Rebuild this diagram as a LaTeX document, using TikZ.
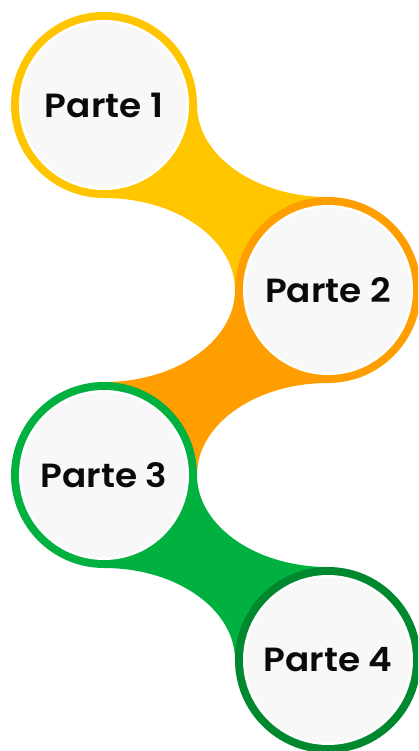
\documentclass[tikz,border=0pt]{standalone}
\usepackage{fontspec}
\setmainfont{Poppins}[BoldFont={Poppins SemiBold}, FakeStretch=1.07]
\usetikzlibrary{backgrounds}
\definecolor{cyel}{HTML}{FFC600}
\definecolor{corg}{HTML}{FF9E00}
\definecolor{cgrn}{HTML}{00B140}
\definecolor{cdgr}{HTML}{00882E}
\definecolor{cdisk}{HTML}{F8F8F8}
\definecolor{ctext}{HTML}{0A0A0A}
\tikzset{
  part/.style={circle, minimum size=186pt, inner sep=0pt, outer sep=0pt,
    fill=#1, text=ctext, font=\fontsize{33.5}{38}\selectfont\bfseries,
    path picture={
      \fill[white] (path picture bounding box.center) circle (85pt);
      \fill[cdisk] (path picture bounding box.center) circle (82.5pt);
    }},
  band/.style={fill=#1}
}
\begin{document}
\begin{tikzpicture}[x=1pt,y=-1pt]
\useasboundingbox (0,0) rectangle (418,751);
\clip (0,0) rectangle (418,751);
\node[part=cyel] (p1) at (104,105) {Parte 1};
\node[part=corg] (p2) at (328,290) {Parte 2};
\node[part=cgrn] (p3) at (104,475) {Parte 3};
\node[part=cdgr] (p4) at (328,660) {Parte 4};
\begin{pgfonlayer}{background}
\fill[band=cyel] (p1.east) .. controls +(0,50.8) and +(-72.4,0) .. (p2.north)
  -- (p2.center) -- (p2.west) .. controls +(0,-50.8) and +(72.4,0) .. (p1.south)
  -- (p1.center) -- cycle;
\fill[band=corg] (p2.south) .. controls +(-72.4,0) and +(0,-50.8) .. (p3.east)
  -- (p3.center) -- (p3.north) .. controls +(72.4,0) and +(0,50.8) .. (p2.west)
  -- (p2.center) -- cycle;
\fill[band=cgrn] (p3.east) .. controls +(0,50.8) and +(-72.4,0) .. (p4.north)
  -- (p4.center) -- (p4.west) .. controls +(0,-50.8) and +(72.4,0) .. (p3.south)
  -- (p3.center) -- cycle;
\end{pgfonlayer}
\end{tikzpicture}
\end{document}
